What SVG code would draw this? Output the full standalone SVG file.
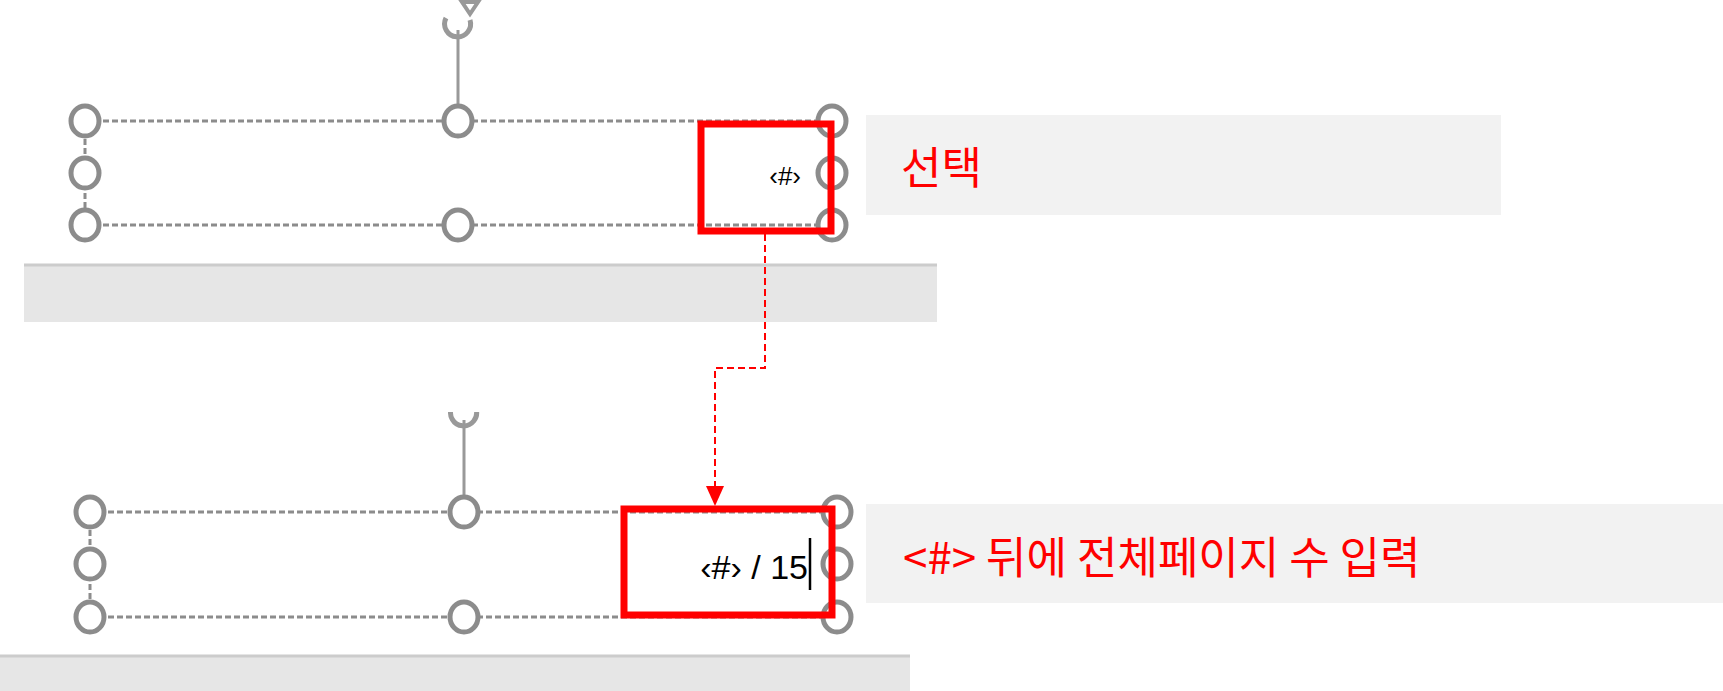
<svg xmlns="http://www.w3.org/2000/svg" width="1723" height="691" viewBox="0 0 1723 691">
<defs>
<style>
.h{fill:#fff;stroke:#8c8c8c;stroke-width:5}
.dl{stroke:#8c8c8c;stroke-width:3;stroke-dasharray:6 3;fill:none}
.rl{stroke:#999;stroke-width:3}
.red{fill:none;stroke:#ff0000;stroke-width:7}
.t{font-family:"Liberation Sans","Noto Sans CJK KR",sans-serif;fill:#000}
.lab{font-family:"Noto Sans CJK KR","Liberation Sans",sans-serif;fill:#ff0000;font-size:44px}
</style>
<marker id="ar" markerWidth="10" markerHeight="10" refX="5" refY="10" orient="auto" markerUnits="userSpaceOnUse" viewBox="0 0 10 10"><path d="M0,0 L10,0 L5,10 Z" fill="#ff0000" transform="rotate(-90 5 5)"/></marker>
</defs>
<rect width="1723" height="691" fill="#fff"/>
<rect x="24" y="265" width="913" height="57" fill="#e6e6e6"/>
<line x1="24" y1="265" x2="937" y2="265" stroke="#ccc" stroke-width="3"/>
<rect x="0" y="656" width="910" height="35" fill="#e6e6e6"/>
<line x1="0" y1="656" x2="910" y2="656" stroke="#ccc" stroke-width="3"/>
<g id="top">
<path d="M446,18 A13,13 0 1 0 470,20" fill="none" stroke="#999" stroke-width="5"/>
<path d="M462,2 L478,2 L470,14 Z" fill="#fff" stroke="#999" stroke-width="4"/>
<line class="rl" x1="458" y1="30" x2="458" y2="105"/>
<path class="dl" d="M85,121 H832 M85,225 H832 M85,121 V225"/>
<ellipse class="h" cx="85" cy="121" rx="14" ry="15"/><ellipse class="h" cx="458" cy="121" rx="14" ry="15"/><ellipse class="h" cx="832" cy="121" rx="14" ry="15"/>
<ellipse class="h" cx="85" cy="173" rx="14" ry="15"/><ellipse class="h" cx="832" cy="173" rx="14" ry="15"/>
<ellipse class="h" cx="85" cy="225" rx="14" ry="15"/><ellipse class="h" cx="458" cy="225" rx="14" ry="15"/><ellipse class="h" cx="832" cy="225" rx="14" ry="15"/>
<text class="t" x="801" y="185" font-size="26" text-anchor="end">‹#›</text>
<rect class="red" x="701" y="124" width="130" height="107"/>
</g>
<g id="label1">
<rect x="866" y="115" width="635" height="100" fill="#f2f2f2"/>
<text class="lab" x="901" y="184">선택</text>
</g>
<g id="bottom">
<clipPath id="cp"><rect x="0" y="412" width="1723" height="279"/></clipPath>
<g clip-path="url(#cp)">
<path d="M452,407 A13,13 0 1 0 476,409" fill="none" stroke="#999" stroke-width="5"/>
<path d="M468,391 L484,391 L476,403 Z" fill="#fff" stroke="#999" stroke-width="4"/>
</g>
<line class="rl" x1="464" y1="420" x2="464" y2="498"/>
<path class="dl" d="M90,512 H837 M90,617 H837 M90,512 V617"/>
<ellipse class="h" cx="90" cy="512" rx="14" ry="15"/><ellipse class="h" cx="464" cy="512" rx="14" ry="15"/><ellipse class="h" cx="837" cy="512" rx="14" ry="15"/>
<ellipse class="h" cx="90" cy="564" rx="14" ry="15"/><ellipse class="h" cx="837" cy="564" rx="14" ry="15"/>
<ellipse class="h" cx="90" cy="617" rx="14" ry="15"/><ellipse class="h" cx="464" cy="617" rx="14" ry="15"/><ellipse class="h" cx="837" cy="617" rx="14" ry="15"/>
<text class="t" x="808" y="579" font-size="34" text-anchor="end">‹#› / 15</text>
<line x1="810" y1="538" x2="810" y2="590" stroke="#000" stroke-width="2.5"/>
<rect class="red" x="624" y="509" width="208" height="106"/>
</g>
<g id="label2">
<rect x="866" y="504" width="857" height="99" fill="#f2f2f2"/>
<text class="lab" x="903" y="574">&lt;#&gt; 뒤에 전체페이지 수 입력</text>
</g>
<g id="connectors">
<path d="M765,234 V368 H715 V490" fill="none" stroke="#ff0000" stroke-width="2" stroke-dasharray="7 4"/>
<path d="M706,486 L724,486 L715,506 Z" fill="#ff0000"/>
</g>
</svg>
